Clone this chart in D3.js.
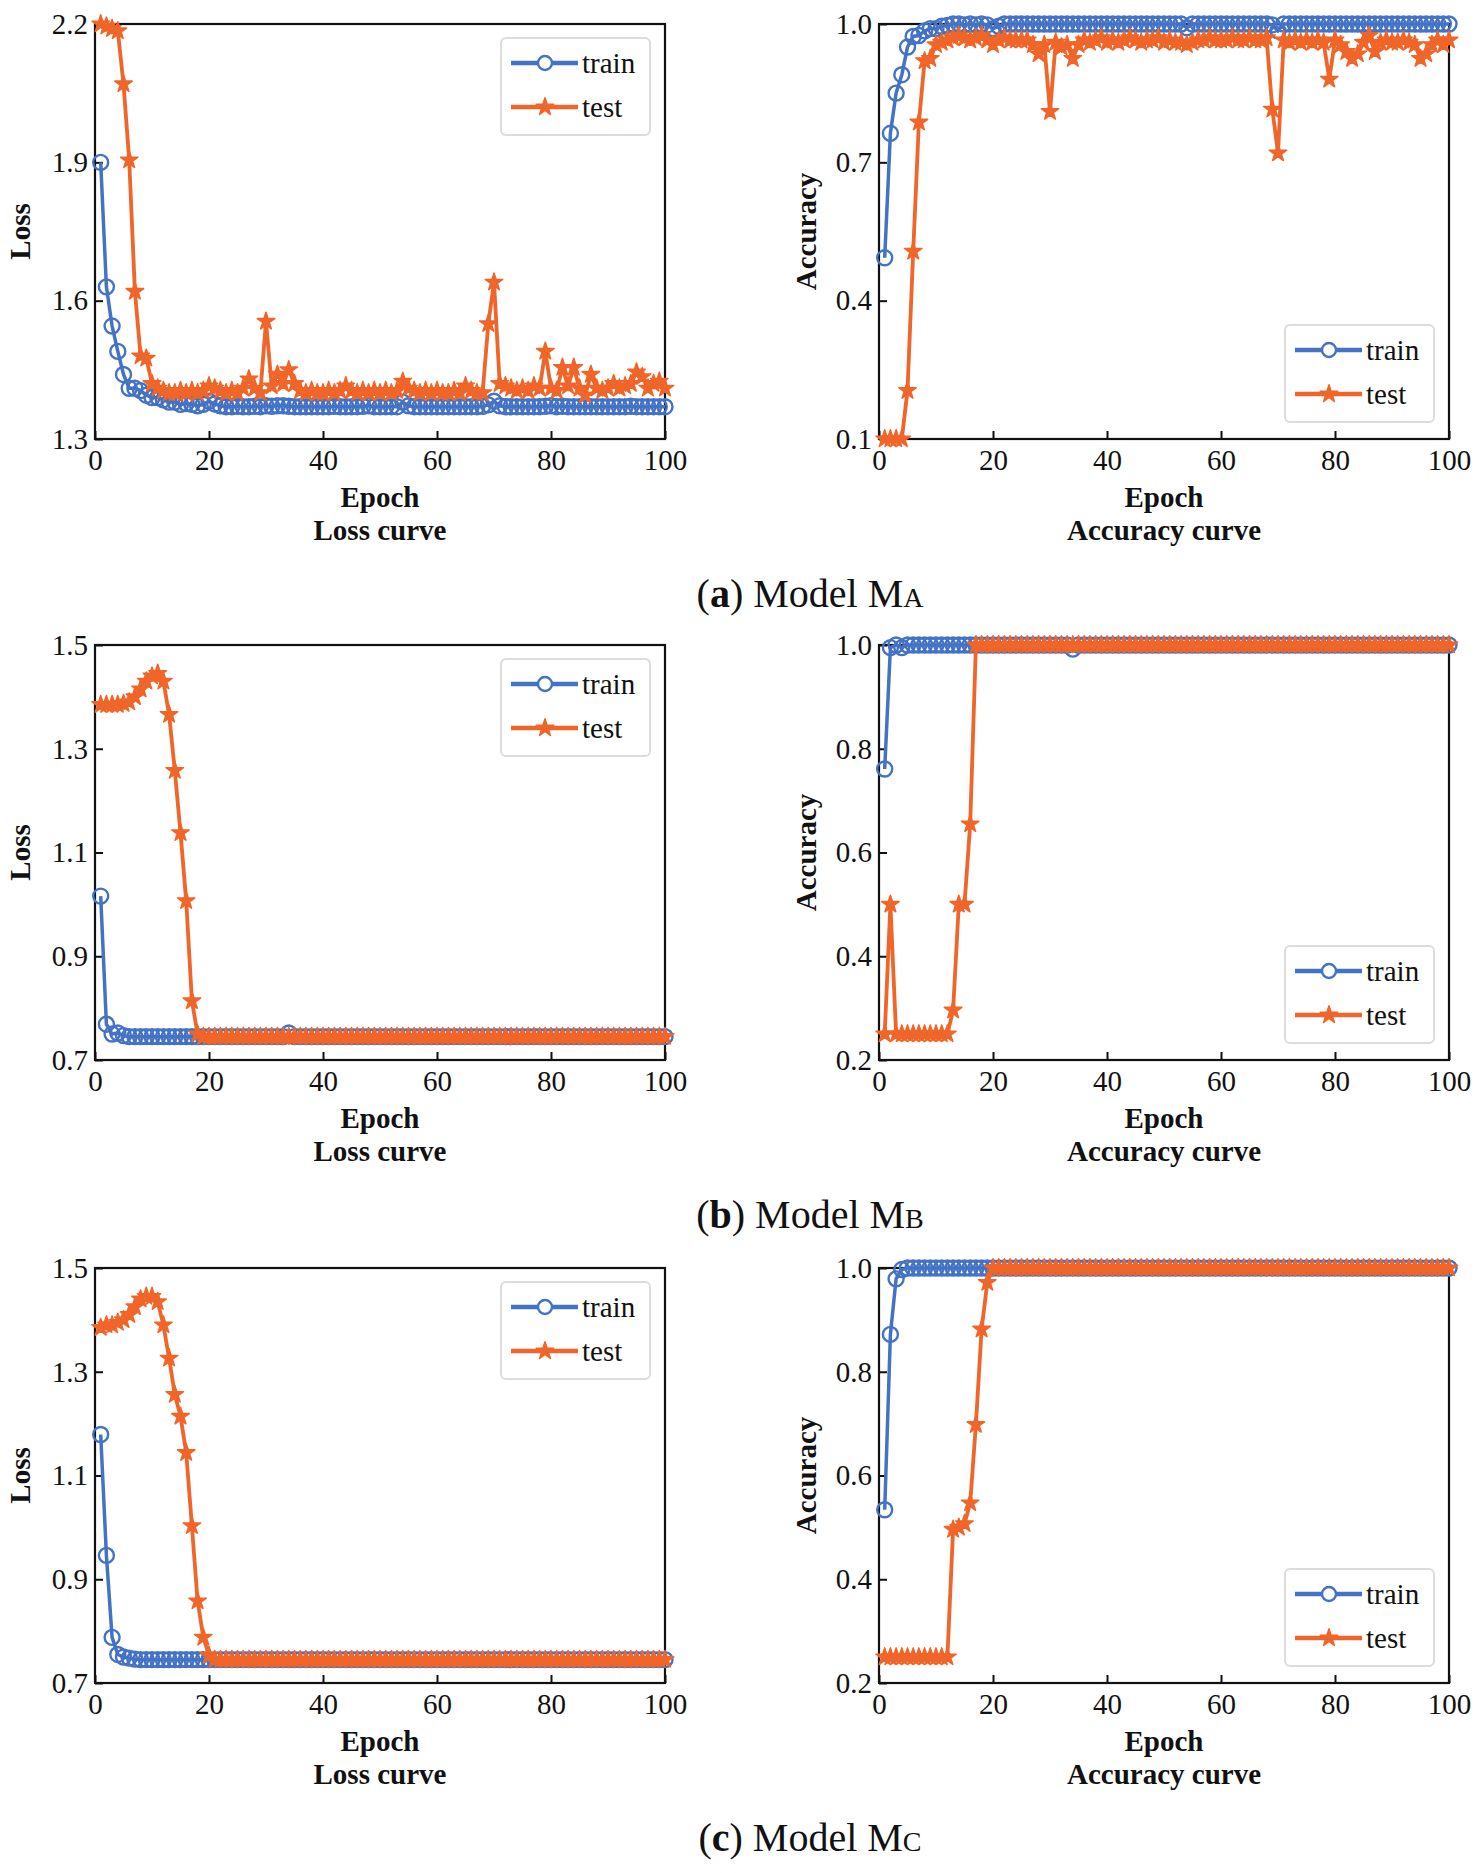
<!DOCTYPE html>
<html>
<head>
<meta charset="utf-8">
<script src="https://cdn.jsdelivr.net/npm/d3@7"></script>
<style>
  body { margin: 0; background: #fff; }
  text { font-family: "Liberation Serif", "Times New Roman", serif; fill: #111; }
</style>
</head>
<body>
<script>
// epochs run 1..100 on every panel
var epochs = d3.range(1, 101);
var epochTicks = [0, 20, 40, 60, 80, 100];

var lossTicksA = [1.3, 1.6, 1.9, 2.2];
var accTicksA = [0.1, 0.4, 0.7, 1.0];
var lossTicksBC = [0.7, 0.9, 1.1, 1.3, 1.5];
var accTicksBC = [0.2, 0.4, 0.6, 0.8, 1.0];

// model A
var lossATrain = [
  1.900,1.630,1.545,1.490,1.440,1.410,1.410,1.405,1.395,1.390,
  1.390,1.385,1.380,1.380,1.375,1.377,1.375,1.372,1.375,1.382,
  1.376,1.372,1.370,1.370,1.371,1.370,1.370,1.371,1.370,1.372,
  1.371,1.372,1.372,1.371,1.370,1.370,1.370,1.370,1.370,1.370,
  1.370,1.371,1.370,1.370,1.370,1.370,1.371,1.372,1.370,1.370,
  1.370,1.370,1.370,1.380,1.372,1.370,1.370,1.370,1.370,1.370,
  1.370,1.370,1.370,1.370,1.370,1.370,1.370,1.371,1.374,1.382,
  1.372,1.370,1.370,1.370,1.370,1.370,1.370,1.370,1.371,1.372,
  1.370,1.371,1.370,1.370,1.370,1.370,1.370,1.370,1.370,1.370,
  1.370,1.370,1.370,1.371,1.370,1.370,1.370,1.370,1.370,1.370
];
var lossATest = [
  2.200,2.195,2.190,2.185,2.070,1.905,1.620,1.480,1.475,1.420,
  1.410,1.405,1.400,1.400,1.405,1.400,1.405,1.400,1.405,1.415,
  1.410,1.405,1.400,1.405,1.400,1.410,1.430,1.410,1.400,1.555,
  1.415,1.440,1.420,1.450,1.420,1.405,1.400,1.405,1.400,1.400,
  1.405,1.400,1.405,1.415,1.405,1.400,1.405,1.400,1.405,1.400,
  1.405,1.400,1.405,1.425,1.410,1.405,1.400,1.405,1.400,1.405,
  1.400,1.400,1.405,1.400,1.415,1.405,1.400,1.400,1.550,1.640,
  1.420,1.415,1.410,1.405,1.410,1.405,1.415,1.410,1.490,1.410,
  1.405,1.455,1.415,1.455,1.410,1.395,1.440,1.410,1.405,1.410,
  1.420,1.410,1.415,1.420,1.445,1.435,1.410,1.420,1.425,1.410
];
var accATrain = [
  0.493,0.763,0.850,0.890,0.950,0.973,0.975,0.985,0.990,0.990,
  0.995,0.997,1.000,1.000,0.998,1.000,0.998,1.000,0.998,0.990,
  0.995,1.000,1.000,1.000,1.000,1.000,1.000,1.000,1.000,1.000,
  1.000,1.000,1.000,1.000,1.000,1.000,1.000,1.000,1.000,1.000,
  1.000,1.000,1.000,1.000,1.000,1.000,1.000,1.000,1.000,1.000,
  1.000,1.000,1.000,0.992,1.000,1.000,1.000,1.000,1.000,1.000,
  1.000,1.000,1.000,1.000,1.000,1.000,1.000,1.000,0.998,0.985,
  1.000,1.000,1.000,1.000,1.000,1.000,1.000,1.000,1.000,1.000,
  1.000,1.000,1.000,1.000,1.000,1.000,1.000,1.000,1.000,1.000,
  1.000,1.000,1.000,1.000,1.000,1.000,1.000,1.000,1.000,1.000
];
var accATest = [
  0.100,0.100,0.100,0.100,0.205,0.507,0.787,0.920,0.925,0.955,
  0.960,0.965,0.970,0.975,0.970,0.965,0.970,0.975,0.965,0.955,
  0.965,0.970,0.965,0.965,0.965,0.965,0.955,0.935,0.955,0.810,
  0.960,0.950,0.955,0.925,0.955,0.965,0.960,0.965,0.970,0.960,
  0.965,0.960,0.965,0.970,0.965,0.960,0.965,0.965,0.970,0.960,
  0.965,0.960,0.960,0.955,0.960,0.965,0.965,0.970,0.965,0.965,
  0.965,0.970,0.965,0.965,0.970,0.965,0.965,0.970,0.815,0.720,
  0.965,0.960,0.965,0.960,0.965,0.960,0.965,0.960,0.880,0.965,
  0.955,0.940,0.925,0.935,0.960,0.975,0.940,0.960,0.965,0.960,
  0.960,0.965,0.960,0.955,0.925,0.935,0.955,0.965,0.955,0.965
];

// model B
var lossBTrain = [
  1.016,0.769,0.750,0.752,0.747,0.745,0.745,0.745,0.745,0.745,
  0.745,0.745,0.745,0.745,0.745,0.745,0.745,0.745,0.745,0.745,
  0.745,0.745,0.745,0.745,0.745,0.745,0.745,0.745,0.745,0.745,
  0.745,0.745,0.745,0.752,0.745,0.745,0.745,0.745,0.745,0.745,
  0.745,0.745,0.745,0.745,0.745,0.745,0.745,0.745,0.745,0.745,
  0.745,0.745,0.745,0.745,0.745,0.745,0.745,0.745,0.745,0.745,
  0.745,0.745,0.745,0.745,0.745,0.745,0.745,0.745,0.745,0.745,
  0.745,0.745,0.745,0.745,0.745,0.745,0.745,0.745,0.745,0.745,
  0.745,0.745,0.745,0.745,0.745,0.745,0.745,0.745,0.745,0.745,
  0.745,0.745,0.745,0.745,0.745,0.745,0.745,0.745,0.745,0.745
];
var lossBTest = [
  1.385,1.385,1.385,1.385,1.387,1.390,1.400,1.415,1.430,1.440,
  1.445,1.430,1.366,1.258,1.138,1.007,0.814,0.750,0.745,0.745,
  0.745,0.745,0.745,0.745,0.745,0.745,0.745,0.745,0.745,0.745,
  0.745,0.745,0.745,0.745,0.745,0.745,0.745,0.745,0.745,0.745,
  0.745,0.745,0.745,0.745,0.745,0.745,0.745,0.745,0.745,0.745,
  0.745,0.745,0.745,0.745,0.745,0.745,0.745,0.745,0.745,0.745,
  0.745,0.745,0.745,0.745,0.745,0.745,0.745,0.745,0.745,0.745,
  0.745,0.745,0.745,0.745,0.745,0.745,0.745,0.745,0.745,0.745,
  0.745,0.745,0.745,0.745,0.745,0.745,0.745,0.745,0.745,0.745,
  0.745,0.745,0.745,0.745,0.745,0.745,0.745,0.745,0.745,0.745
];
var accBTrain = [
  0.761,0.995,1.000,0.995,1.000,1.000,1.000,1.000,1.000,1.000,
  1.000,1.000,1.000,1.000,1.000,1.000,1.000,1.000,1.000,1.000,
  1.000,1.000,1.000,1.000,1.000,1.000,1.000,1.000,1.000,1.000,
  1.000,1.000,1.000,0.992,1.000,1.000,1.000,1.000,1.000,1.000,
  1.000,1.000,1.000,1.000,1.000,1.000,1.000,1.000,1.000,1.000,
  1.000,1.000,1.000,1.000,1.000,1.000,1.000,1.000,1.000,1.000,
  1.000,1.000,1.000,1.000,1.000,1.000,1.000,1.000,1.000,1.000,
  1.000,1.000,1.000,1.000,1.000,1.000,1.000,1.000,1.000,1.000,
  1.000,1.000,1.000,1.000,1.000,1.000,1.000,1.000,1.000,1.000,
  1.000,1.000,1.000,1.000,1.000,1.000,1.000,1.000,1.000,1.000
];
var accBTest = [
  0.250,0.500,0.250,0.250,0.250,0.250,0.250,0.250,0.250,0.250,
  0.250,0.250,0.296,0.500,0.500,0.655,1.000,1.000,1.000,1.000,
  1.000,1.000,1.000,1.000,1.000,1.000,1.000,1.000,1.000,1.000,
  1.000,1.000,1.000,1.000,1.000,1.000,1.000,1.000,1.000,1.000,
  1.000,1.000,1.000,1.000,1.000,1.000,1.000,1.000,1.000,1.000,
  1.000,1.000,1.000,1.000,1.000,1.000,1.000,1.000,1.000,1.000,
  1.000,1.000,1.000,1.000,1.000,1.000,1.000,1.000,1.000,1.000,
  1.000,1.000,1.000,1.000,1.000,1.000,1.000,1.000,1.000,1.000,
  1.000,1.000,1.000,1.000,1.000,1.000,1.000,1.000,1.000,1.000,
  1.000,1.000,1.000,1.000,1.000,1.000,1.000,1.000,1.000,1.000
];

// model C
var lossCTrain = [
  1.179,0.946,0.788,0.755,0.750,0.748,0.746,0.745,0.745,0.745,
  0.745,0.745,0.745,0.745,0.745,0.745,0.745,0.745,0.745,0.745,
  0.745,0.745,0.745,0.745,0.745,0.745,0.745,0.745,0.745,0.745,
  0.745,0.745,0.745,0.745,0.745,0.745,0.745,0.745,0.745,0.745,
  0.745,0.745,0.745,0.745,0.745,0.745,0.745,0.745,0.745,0.745,
  0.745,0.745,0.745,0.745,0.745,0.745,0.745,0.745,0.745,0.745,
  0.745,0.745,0.745,0.745,0.745,0.745,0.745,0.745,0.745,0.745,
  0.745,0.745,0.745,0.745,0.745,0.745,0.745,0.745,0.745,0.745,
  0.745,0.745,0.745,0.745,0.745,0.745,0.745,0.745,0.745,0.745,
  0.745,0.745,0.745,0.745,0.745,0.745,0.745,0.745,0.745,0.745
];
var lossCTest = [
  1.385,1.390,1.390,1.395,1.400,1.410,1.425,1.440,1.445,1.445,
  1.435,1.390,1.326,1.256,1.214,1.144,1.003,0.858,0.788,0.753,
  0.745,0.745,0.745,0.745,0.745,0.745,0.745,0.745,0.745,0.745,
  0.745,0.745,0.745,0.745,0.745,0.745,0.745,0.745,0.745,0.745,
  0.745,0.745,0.745,0.745,0.745,0.745,0.745,0.745,0.745,0.745,
  0.745,0.745,0.745,0.745,0.745,0.745,0.745,0.745,0.745,0.745,
  0.745,0.745,0.745,0.745,0.745,0.745,0.745,0.745,0.745,0.745,
  0.745,0.745,0.745,0.745,0.745,0.745,0.745,0.745,0.745,0.745,
  0.745,0.745,0.745,0.745,0.745,0.745,0.745,0.745,0.745,0.745,
  0.745,0.745,0.745,0.745,0.745,0.745,0.745,0.745,0.745,0.745
];
var accCTrain = [
  0.534,0.872,0.979,0.997,1.000,1.000,1.000,1.000,1.000,1.000,
  1.000,1.000,1.000,1.000,1.000,1.000,1.000,1.000,1.000,1.000,
  1.000,1.000,1.000,1.000,1.000,1.000,1.000,1.000,1.000,1.000,
  1.000,1.000,1.000,1.000,1.000,1.000,1.000,1.000,1.000,1.000,
  1.000,1.000,1.000,1.000,1.000,1.000,1.000,1.000,1.000,1.000,
  1.000,1.000,1.000,1.000,1.000,1.000,1.000,1.000,1.000,1.000,
  1.000,1.000,1.000,1.000,1.000,1.000,1.000,1.000,1.000,1.000,
  1.000,1.000,1.000,1.000,1.000,1.000,1.000,1.000,1.000,1.000,
  1.000,1.000,1.000,1.000,1.000,1.000,1.000,1.000,1.000,1.000,
  1.000,1.000,1.000,1.000,1.000,1.000,1.000,1.000,1.000,1.000
];
var accCTest = [
  0.250,0.250,0.250,0.250,0.250,0.250,0.250,0.250,0.250,0.250,
  0.250,0.250,0.496,0.500,0.507,0.547,0.698,0.882,0.972,1.000,
  1.000,1.000,1.000,1.000,1.000,1.000,1.000,1.000,1.000,1.000,
  1.000,1.000,1.000,1.000,1.000,1.000,1.000,1.000,1.000,1.000,
  1.000,1.000,1.000,1.000,1.000,1.000,1.000,1.000,1.000,1.000,
  1.000,1.000,1.000,1.000,1.000,1.000,1.000,1.000,1.000,1.000,
  1.000,1.000,1.000,1.000,1.000,1.000,1.000,1.000,1.000,1.000,
  1.000,1.000,1.000,1.000,1.000,1.000,1.000,1.000,1.000,1.000,
  1.000,1.000,1.000,1.000,1.000,1.000,1.000,1.000,1.000,1.000,
  1.000,1.000,1.000,1.000,1.000,1.000,1.000,1.000,1.000,1.000
];

var captions = [["a", "A"], ["b", "B"], ["c", "C"]];
var seriesNames = ["train", "test"];

var blue = "#4472c4";
var orange = "#f06529";

var W = 1479, H = 1873;
var colX = [95, 879];
var rowY = [24, 645, 1268];
var plotW = 570, plotH = 415;

var panels = [
  {row: 0, col: 0, train: lossATrain, test: lossATest, domain: [1.3, 2.2], ticks: lossTicksA, ylab: "Loss", title: "Loss curve", legend: "top"},
  {row: 0, col: 1, train: accATrain, test: accATest, domain: [0.1, 1.0], ticks: accTicksA, ylab: "Accuracy", title: "Accuracy curve", legend: "bottom"},
  {row: 1, col: 0, train: lossBTrain, test: lossBTest, domain: [0.7, 1.5], ticks: lossTicksBC, ylab: "Loss", title: "Loss curve", legend: "top"},
  {row: 1, col: 1, train: accBTrain, test: accBTest, domain: [0.2, 1.0], ticks: accTicksBC, ylab: "Accuracy", title: "Accuracy curve", legend: "bottom"},
  {row: 2, col: 0, train: lossCTrain, test: lossCTest, domain: [0.7, 1.5], ticks: lossTicksBC, ylab: "Loss", title: "Loss curve", legend: "top"},
  {row: 2, col: 1, train: accCTrain, test: accCTest, domain: [0.2, 1.0], ticks: accTicksBC, ylab: "Accuracy", title: "Accuracy curve", legend: "bottom"}
];

var svg = d3.select("body").append("svg").attr("width", W).attr("height", H);

var star = d3.symbol().type(d3.symbolStar).size(95);

function drawPanel(p) {
  var g = svg.append("g").attr("transform", "translate(" + colX[p.col] + "," + rowY[p.row] + ")");
  var x = d3.scaleLinear().domain([0, 100]).range([0, plotW]);
  var y = d3.scaleLinear().domain(p.domain).range([plotH, 0]);

  var xAxis = g.append("g").attr("transform", "translate(0," + plotH + ")")
    .call(d3.axisBottom(x).tickValues(epochTicks).tickSizeInner(-8).tickSizeOuter(0).tickPadding(10));
  var yAxis = g.append("g")
    .call(d3.axisLeft(y).tickValues(p.ticks).tickFormat(d3.format(".1f")).tickSizeInner(-8).tickSizeOuter(0).tickPadding(7));
  [xAxis, yAxis].forEach(function (a) {
    a.select(".domain").remove();
    a.selectAll(".tick line").attr("stroke", "#111").attr("stroke-width", 2);
    a.selectAll("text").style("font-size", "29px").attr("fill", "#222");
  });

  g.append("rect").attr("width", plotW).attr("height", plotH)
    .attr("fill", "none").attr("stroke", "#111").attr("stroke-width", 2.2);

  var line = d3.line().x(function (d, i) { return x(epochs[i]); }).y(function (d) { return y(d); });

  g.append("path").datum(p.train).attr("d", line)
    .attr("fill", "none").attr("stroke", blue).attr("stroke-width", 3.5);
  g.selectAll("circle.tr").data(p.train).enter().append("circle")
    .attr("class", "tr")
    .attr("cx", function (d, i) { return x(epochs[i]); })
    .attr("cy", function (d) { return y(d); })
    .attr("r", 7.5).attr("fill", "none").attr("stroke", blue).attr("stroke-width", 2.4);

  g.append("path").datum(p.test).attr("d", line)
    .attr("fill", "none").attr("stroke", orange).attr("stroke-width", 3.8);
  g.selectAll("path.te").data(p.test).enter().append("path")
    .attr("class", "te").attr("d", star)
    .attr("transform", function (d, i) { return "translate(" + x(epochs[i]) + "," + y(d) + ")"; })
    .attr("fill", orange).attr("stroke", orange).attr("stroke-width", 1.5).attr("stroke-linejoin", "round");

  // axis titles
  g.append("text").attr("x", plotW / 2).attr("y", plotH + 68)
    .attr("text-anchor", "middle").style("font-size", "29px").style("font-weight", "bold").text("Epoch");
  g.append("text").attr("x", plotW / 2).attr("y", plotH + 101)
    .attr("text-anchor", "middle").style("font-size", "29px").style("font-weight", "bold").text(p.title);
  var ylx = p.col === 0 ? -65 : -63;
  g.append("text").attr("transform", "translate(" + ylx + "," + plotH / 2 + ") rotate(-90)")
    .attr("text-anchor", "middle").style("font-size", "29px").style("font-weight", "bold").text(p.ylab);

  // legend
  var lw = 149, lh = 97;
  var lx = plotW - 15 - lw;
  var ly = p.legend === "top" ? 14 : plotH - 17 - lh;
  var lg = g.append("g").attr("transform", "translate(" + lx + "," + ly + ")");
  lg.append("rect").attr("width", lw).attr("height", lh).attr("rx", 5)
    .attr("fill", "#fff").attr("stroke", "#dcdcdc").attr("stroke-width", 2);
  seriesNames.forEach(function (name, i) {
    var cy = 25 + i * 44;
    var col = i === 0 ? blue : orange;
    lg.append("line").attr("x1", 10).attr("x2", 77).attr("y1", cy).attr("y2", cy)
      .attr("stroke", col).attr("stroke-width", 4.5);
    if (i === 0) {
      lg.append("circle").attr("cx", 44).attr("cy", cy).attr("r", 7)
        .attr("fill", "#fff").attr("stroke", col).attr("stroke-width", 2.4);
    } else {
      lg.append("path").attr("d", star).attr("transform", "translate(44," + cy + ")")
        .attr("fill", col).attr("stroke", col).attr("stroke-width", 1.5).attr("stroke-linejoin", "round");
    }
    lg.append("text").attr("x", 81).attr("y", cy + 10).style("font-size", "29px").text(name);
  });
}

panels.forEach(drawPanel);

// sub-figure captions
captions.forEach(function (c, i) {
  var t = svg.append("text").attr("x", 810).attr("y", rowY[i] + 583)
    .attr("text-anchor", "middle").style("font-size", "40px");
  t.append("tspan").text("(");
  t.append("tspan").style("font-weight", "bold").text(c[0]);
  t.append("tspan").text(") Model M");
  t.append("tspan").style("font-size", "28px").text(c[1]);
});
</script>
</body>
</html>
